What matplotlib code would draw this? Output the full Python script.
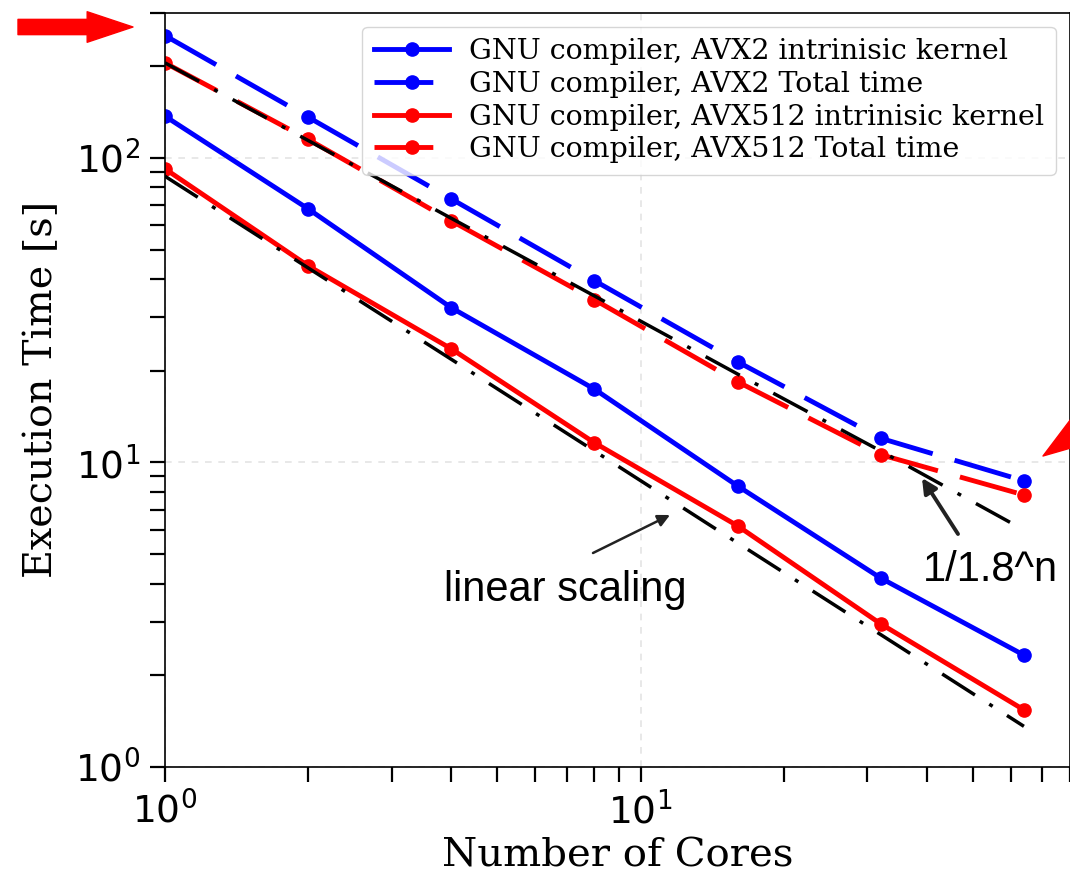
import matplotlib
matplotlib.use("Agg")
import matplotlib.pyplot as plt
from matplotlib.patches import FancyArrowPatch
from matplotlib.transforms import IdentityTransform

# ---- data ----
cores = [1, 2, 4, 8, 16, 32, 64]
avx2_kernel = [137, 68, 32.2, 17.4, 8.37, 4.17, 2.33]
avx2_total = [252, 136, 73.3, 39.5, 21.4, 12.0, 8.7]
avx512_kernel = [92, 44.2, 23.6, 11.6, 6.19, 2.95, 1.54]
avx512_total = [205, 115, 62.1, 34.2, 18.4, 10.6, 7.82]
linear_ref = [87, 43.5, 21.8, 10.9, 5.44, 2.72, 1.36]
pow18_ref = [205, 114, 63.3, 35.2, 19.5, 10.9, 6.0]

labels = ["GNU compiler, AVX2 intrinisic kernel",
          "GNU compiler, AVX2 Total time",
          "GNU compiler, AVX512 intrinisic kernel",
          "GNU compiler, AVX512 Total time"]

W, H = 1070, 882
fig = plt.figure(figsize=(W / 100, H / 100), dpi=100)
ax = fig.add_axes([165 / W, 1 - 767 / H, (1070 - 165) / W, (767 - 12.5) / H])

lw = 3.5
ms = 9.5
dash = (0, (12.1, 4.7))
ax.plot(cores, avx2_kernel, color="#0000ff", lw=lw, marker="o", ms=ms, label=labels[0])
ax.plot(cores, avx2_total, color="#0000ff", lw=lw, marker="o", ms=ms, ls=dash, label=labels[1])
ax.plot(cores, avx512_kernel, color="#ff0000", lw=lw, marker="o", ms=ms, label=labels[2])
ax.plot(cores, avx512_total, color="#ff0000", lw=lw, marker="o", ms=ms, ls=dash, label=labels[3])
dd = (0, (11.2, 4.9, 1.15, 4.9))
ax.plot(cores, linear_ref, color="black", lw=2.5, ls=dd)
ax.plot(cores, pow18_ref, color="black", lw=2.5, ls=dd)

ax.set_xscale("log")
ax.set_yscale("log")
ax.set_xlim(1, 80)
ax.set_ylim(1, 300)

ax.grid(True, which="major", ls=(0, (4, 4)), color="#e4e4e4", lw=1.2)
ax.tick_params(which="both", direction="out", length=11, width=1.6, top=False, right=False)
ax.tick_params(which="major", labelsize=27, pad=7)
for s in ax.spines.values():
    s.set_linewidth(1.2)

ax.set_xlabel("Number of Cores", family="DejaVu Serif", fontsize=29)
ax.set_ylabel("Execution Time [s]", family="DejaVu Serif", fontsize=28.5, labelpad=10.5)

leg = ax.legend(loc="upper right", prop={"family": "DejaVu Serif", "size": 20.5},
                handlelength=2.65, handletextpad=0.7, labelspacing=0.2,
                borderpad=0.4, framealpha=0.8, edgecolor="#cccccc")

# annotations (figure pixel coordinates, origin bottom-left)
ax.annotate("", xy=(670, H - 515), xytext=(593, H - 553), xycoords="figure pixels",
            textcoords="figure pixels",
            arrowprops=dict(arrowstyle="-|>", color="#222222", lw=1.8,
                            mutation_scale=18, shrinkA=0, shrinkB=0),
            annotation_clip=False)
fig.text(565 / W, 1 - 590 / H, "linear scaling", family="Liberation Sans",
         fontsize=30, ha="center", va="center")

ax.annotate("", xy=(922, H - 478), xytext=(958, H - 534), xycoords="figure pixels",
            textcoords="figure pixels",
            arrowprops=dict(arrowstyle="-|>", color="#222222", lw=2.8,
                            mutation_scale=22, shrinkA=0, shrinkB=0),
            annotation_clip=False)
fig.text(990 / W, 1 - 570 / H, "1/1.8^n", family="Liberation Sans",
         fontsize=30, ha="center", va="center")

# red pointer arrows
for tail, tip in [((18, H - 27), (133, H - 27)), ((1142, H - 388), (1043, H - 456))]:
    p = FancyArrowPatch(tail, tip, transform=IdentityTransform(),
                        arrowstyle="simple,head_length=33,head_width=22,tail_width=11",
                        mutation_scale=1, color="#ff0000", shrinkA=0, shrinkB=0)
    fig.patches.append(p)

fig.savefig("out.png", dpi=100)
